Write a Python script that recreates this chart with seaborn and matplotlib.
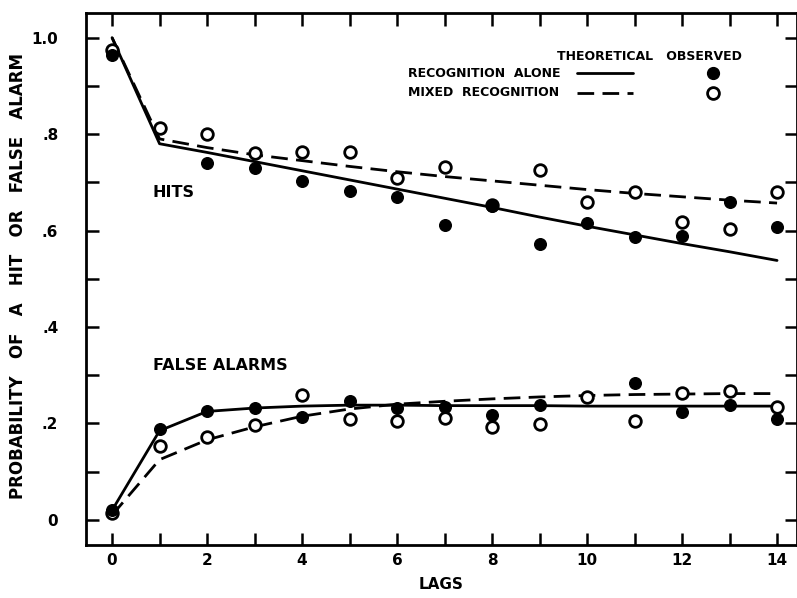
import numpy as np
import pandas as pd
import matplotlib
matplotlib.use("Agg")
import matplotlib.pyplot as plt
import seaborn as sns

# ---------------- data ----------------
lags = list(range(15))

# theoretical curves
theo_hits_alone = [1.00, 0.780, 0.762, 0.743, 0.724, 0.705, 0.686, 0.667, 0.648,
                   0.628, 0.609, 0.591, 0.573, 0.556, 0.538]
theo_hits_mixed = [1.00, 0.790, 0.772, 0.757, 0.745, 0.733, 0.722, 0.712, 0.703,
                   0.694, 0.685, 0.677, 0.670, 0.663, 0.657]
theo_fa_alone = [0.020, 0.185, 0.225, 0.232, 0.236, 0.238, 0.238, 0.237, 0.237,
                 0.237, 0.236, 0.236, 0.236, 0.236, 0.236]
theo_fa_mixed = [0.010, 0.125, 0.166, 0.193, 0.215, 0.230, 0.240, 0.246, 0.251,
                 0.255, 0.258, 0.260, 0.261, 0.262, 0.262]

# observed points
obs_hits_alone = [0.965, np.nan, 0.740, 0.730, 0.703, 0.682, 0.670, 0.611, 0.651,
                  0.572, 0.616, 0.587, 0.589, 0.659, 0.607]
obs_hits_mixed = [0.975, 0.813, 0.800, 0.760, 0.763, 0.763, 0.709, 0.732, 0.653,
                  0.725, 0.659, 0.680, 0.618, 0.603, 0.680]
obs_fa_alone = [0.021, 0.188, 0.226, 0.232, 0.214, 0.246, 0.232, 0.234, 0.218,
                0.238, np.nan, 0.284, 0.224, 0.238, 0.209]
obs_fa_mixed = [0.015, 0.153, 0.172, 0.197, 0.259, 0.209, 0.205, 0.211, 0.193,
                0.199, 0.255, 0.205, 0.263, 0.267, 0.234]

x_ticks = [0, 2, 4, 6, 8, 10, 12, 14]
y_ticks = [0.0, 0.2, 0.4, 0.6, 0.8, 1.0]
y_tick_labels = ["0", ".2", ".4", ".6", ".8", "1.0"]

# ---------------- build long tables ----------------
theo = pd.concat([
    pd.DataFrame({"lag": lags, "p": theo_hits_alone, "cond": "alone", "kind": "hits"}),
    pd.DataFrame({"lag": lags, "p": theo_hits_mixed, "cond": "mixed", "kind": "hits"}),
    pd.DataFrame({"lag": lags, "p": theo_fa_alone, "cond": "alone", "kind": "fa"}),
    pd.DataFrame({"lag": lags, "p": theo_fa_mixed, "cond": "mixed", "kind": "fa"}),
], ignore_index=True)
obs_alone = pd.DataFrame({"lag": lags * 2, "p": obs_hits_alone + obs_fa_alone}).dropna()
obs_mixed = pd.DataFrame({"lag": lags * 2, "p": obs_hits_mixed + obs_fa_mixed}).dropna()

# ---------------- style ----------------
sns.set_style("ticks")
plt.rcParams["font.family"] = ["DejaVu Sans"]
plt.rcParams["font.weight"] = "bold"
plt.rcParams["text.color"] = "black"
plt.rcParams["axes.labelcolor"] = "black"
plt.rcParams["xtick.color"] = "black"
plt.rcParams["ytick.color"] = "black"

DASH = (0, (6, 3))

fig = plt.figure(figsize=(7.97, 5.98), dpi=100)
ax = fig.add_axes([0.108, 0.0886, 0.892, 0.8896])

for (cond, kind), sub in theo.groupby(["cond", "kind"]):
    sns.lineplot(data=sub, x="lag", y="p", ax=ax, color="black", lw=2.0,
                 linestyle="-" if cond == "alone" else DASH,
                 legend=False, sort=True, estimator=None)

sns.scatterplot(data=obs_mixed, x="lag", y="p", ax=ax, s=70, marker="o",
                facecolor="white", edgecolor="black", linewidth=2.0,
                legend=False, zorder=5)
sns.scatterplot(data=obs_alone, x="lag", y="p", ax=ax, s=70, marker="o",
                color="black", edgecolor="black", linewidth=1.0,
                legend=False, zorder=6)

ax.set_xlim(-0.547, 14.42)
ax.set_ylim(-0.052, 1.051)
ax.set_xticks(x_ticks)
ax.set_xticks(lags, minor=True)
ax.set_yticks(y_ticks)
ax.set_yticklabels(y_tick_labels)
ax.set_yticks(np.arange(0, 1.01, 0.1), minor=True)
ax.tick_params(which="both", direction="in", length=9, width=1.8,
               top=True, right=True, labelsize=11, colors="black")
ax.tick_params(axis="y", pad=20)
ax.tick_params(axis="x", pad=6)
for sp in ax.spines.values():
    sp.set_linewidth(2.0)
    sp.set_color("black")

ax.set_xlabel("LAGS", fontsize=11, fontweight="bold", labelpad=6, color="black")
ax.set_ylabel("PROBABILITY   OF   A   HIT   OR   FALSE   ALARM", fontsize=12,
              fontweight="bold", color="black", va="center")
ax.yaxis.set_label_coords(-0.096, 0.505)

ax.text(0.86, 0.678, "HITS", fontsize=11.5, fontweight="bold", va="center",
        ha="left", color="black")
ax.text(0.86, 0.321, "FALSE ALARMS", fontsize=11.5, fontweight="bold",
        va="center", ha="left", color="black")

# legend (axes fraction)
tr = ax.transAxes
ax.text(0.662, 0.919, "THEORETICAL   OBSERVED", transform=tr, fontsize=9,
        fontweight="bold", va="center", ha="left", color="black")
ax.text(0.453, 0.887, "RECOGNITION  ALONE", transform=tr, fontsize=9,
        fontweight="bold", va="center", ha="left", color="black")
ax.text(0.453, 0.850, "MIXED  RECOGNITION", transform=tr, fontsize=9,
        fontweight="bold", va="center", ha="left", color="black")
ax.plot([0.690, 0.769], [0.887, 0.887], transform=tr, color="black", lw=2.0)
ax.plot([0.690, 0.769], [0.850, 0.850], transform=tr, color="black", lw=2.0,
        linestyle=DASH)
ax.plot([0.882], [0.887], transform=tr, marker="o", ms=8.5, color="black",
        mec="black", linestyle="none")
ax.plot([0.882], [0.850], transform=tr, marker="o", ms=8.5, mfc="white",
        mec="black", mew=2.0, linestyle="none")

fig.savefig("out.png", dpi=100)
